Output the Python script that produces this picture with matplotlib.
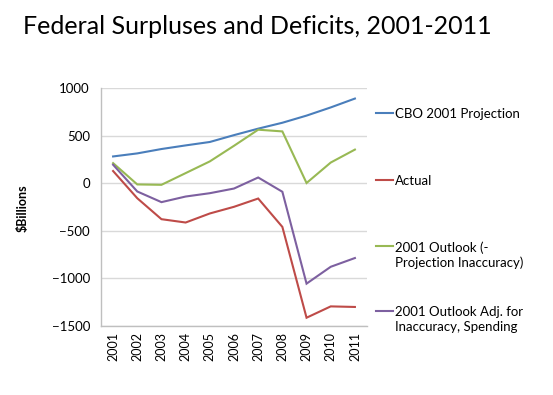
import matplotlib
matplotlib.use("Agg")
import matplotlib.pyplot as plt
from matplotlib.lines import Line2D

years = ["2001", "2002", "2003", "2004", "2005", "2006", "2007", "2008", "2009", "2010", "2011"]
cbo_projection = [281, 313, 359, 397, 433, 505, 573, 635, 710, 796, 889]
actual = [128, -158, -378, -413, -318, -248, -161, -459, -1413, -1294, -1300]
outlook_inaccuracy = [211, -13, -17, 106, 229, 393, 562, 544, 2, 217, 353]
outlook_adj_spending = [194, -87, -199, -140, -105, -56, 60, -90, -1055, -878, -786]

series_names = ["CBO 2001 Projection", "Actual", "2001 Outlook (-\nProjection Inaccuracy)",
                "2001 Outlook Adj. for\nInaccuracy, Spending"]
colors = ["#4A7EBB", "#BE4B48", "#98B954", "#7D60A0"]

plt.rcParams['font.family'] = ['Lato', 'DejaVu Sans']

fig = plt.figure(figsize=(5.53, 3.95), dpi=100)
ax = fig.add_axes([101/553, 1 - 326/395, 266/553, 238/395])

x = list(range(len(years)))
all_series = [cbo_projection, actual, outlook_inaccuracy, outlook_adj_spending]
lines = []
for s, c in zip(all_series, colors):
    ln, = ax.plot(x, s, color=c, lw=1.5, solid_joinstyle='miter')
    lines.append(ln)

ax.set_xlim(-0.5, len(years) - 0.5)
ax.set_ylim(-1500, 1000)
ax.set_yticks([-1500, -1000, -500, 0, 500, 1000])
ax.set_xticks(x)
ax.set_xticklabels(years, rotation=90, fontsize=9)
ax.tick_params(axis='y', labelsize=9.5, length=0, pad=8)
ax.tick_params(axis='x', length=0, pad=4)
ax.grid(axis='y', color='#D9D9D9', lw=1)
ax.set_axisbelow(True)
for sp in ['top', 'right']:
    ax.spines[sp].set_visible(False)
for sp in ['left', 'bottom']:
    ax.spines[sp].set_color('#BFBFBF')
    ax.spines[sp].set_linewidth(1)

fig.text(23/553, 1 - 208/395, "$Billions", rotation=90, fontsize=9, fontweight='bold',
         ha='center', va='center')

fig.text(257/553, 1 - 26/395, "Federal Surpluses and Deficits, 2001-2011", fontsize=18,
         ha='center', va='center')

legend_y = [113, 180, 246, 311]
for name, ln, ly in zip(series_names, lines, legend_y):
    yf = 1 - ly / 395
    fig.add_artist(Line2D([376/553, 393/553], [yf, yf], color=ln.get_color(), lw=1.5,
                          transform=fig.transFigure))
    fig.text(395/553, yf + 5/395, name, fontsize=9.5, ha='left', va='top', linespacing=1.3)

fig.savefig("out.png", dpi=100)
